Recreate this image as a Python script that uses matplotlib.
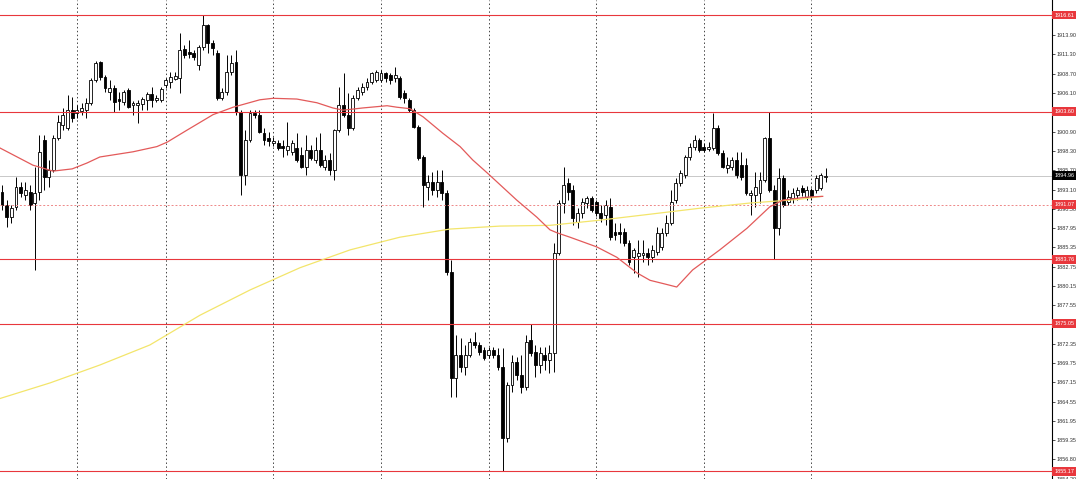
import matplotlib
matplotlib.use("Agg")
import matplotlib.pyplot as plt
import numpy as np

# velas de 1h (XAUUSD)
opens = [1892.8, 1891.0, 1889.4, 1890.8, 1893.5, 1892.4, 1892.8, 1891.3, 1892.8, 1899.8,
         1894.8, 1895.8, 1900.1, 1901.8, 1901.4, 1903.8, 1903.4, 1903.7, 1903.8, 1904.8,
         1907.9, 1910.3, 1908.3, 1906.2, 1906.8, 1905.3, 1904.9, 1906.5, 1904.5, 1904.5,
         1904.6, 1905.2, 1906.0, 1905.2, 1905.2, 1907.2, 1907.6, 1908.0, 1908.1, 1912.0,
         1911.6, 1911.5, 1909.9, 1912.3, 1915.3, 1912.8, 1911.5, 1905.4, 1906.2, 1908.9,
         1910.3, 1903.6, 1895.1, 1899.8, 1903.4, 1903.2, 1900.7, 1900.1, 1899.4, 1899.4,
         1899.0, 1898.4, 1898.2, 1898.7, 1897.8, 1896.2, 1898.4, 1897.1, 1898.4, 1896.2,
         1897.1, 1895.8, 1901.1, 1904.5, 1903.2, 1901.4, 1905.4, 1906.2, 1906.9, 1907.6,
         1907.9, 1907.9, 1908.8, 1908.5, 1908.1, 1908.1, 1906.1, 1905.2, 1903.8, 1901.5,
         1897.5, 1893.5, 1894.1, 1893.1, 1894.1, 1892.7, 1882.0, 1867.8, 1870.8, 1869.2,
         1870.8, 1872.6, 1872.2, 1871.5, 1870.8, 1871.5, 1870.8, 1869.2, 1859.7, 1866.8,
         1869.9, 1868.2, 1866.5, 1872.9, 1871.2, 1869.5, 1870.8, 1870.2, 1871.1, 1884.6,
         1891.3, 1894.0, 1893.1, 1888.8, 1890.0, 1891.3, 1892.0, 1891.4, 1890.0, 1889.7,
         1890.8, 1887.4, 1887.4, 1887.4, 1885.9, 1884.0, 1884.2, 1884.3, 1884.6, 1884.0,
         1884.7, 1885.4, 1887.3, 1888.6, 1891.7, 1894.0, 1895.1, 1897.5, 1898.8, 1899.8,
         1898.8, 1898.6, 1898.7, 1901.4, 1898.0, 1896.0, 1896.2, 1897.1, 1896.4, 1896.4,
         1892.4, 1892.4, 1892.7, 1894.4, 1900.1, 1893.1, 1887.9, 1894.7, 1891.4, 1892.0,
         1892.4, 1893.3, 1892.1, 1893.1, 1893.1, 1893.3, 1894.8]
highs = [1893.7, 1891.7, 1891.0, 1894.8, 1894.1, 1894.1, 1893.7, 1896.2, 1900.5, 1900.5,
         1897.1, 1900.5, 1903.2, 1904.1, 1905.8, 1905.6, 1904.5, 1904.8, 1905.4, 1908.1,
         1910.4, 1910.4, 1908.5, 1907.9, 1907.2, 1906.2, 1906.5, 1906.8, 1905.0, 1905.2,
         1905.6, 1906.2, 1906.9, 1905.8, 1906.9, 1908.1, 1908.9, 1908.9, 1914.2, 1912.6,
         1913.2, 1911.9, 1912.6, 1916.61, 1915.4, 1913.2, 1911.9, 1906.8, 1911.2, 1911.2,
         1911.9, 1903.8, 1901.1, 1903.8, 1903.8, 1903.8, 1901.4, 1900.9, 1900.2, 1899.8,
         1899.8, 1902.2, 1899.8, 1900.7, 1898.8, 1900.5, 1899.1, 1900.2, 1900.7, 1897.8,
         1898.0, 1901.3, 1906.9, 1908.8, 1906.1, 1905.8, 1906.9, 1907.5, 1908.1, 1908.9,
         1909.2, 1909.2, 1908.9, 1908.8, 1909.6, 1908.4, 1906.5, 1905.4, 1904.1, 1901.8,
         1897.8, 1895.1, 1895.5, 1895.8, 1895.8, 1893.1, 1883.6, 1873.5, 1873.1, 1872.2,
         1873.1, 1873.9, 1872.6, 1871.9, 1871.9, 1871.9, 1871.8, 1871.8, 1867.2, 1870.8,
         1870.6, 1870.8, 1873.5, 1875.0, 1872.2, 1871.9, 1871.9, 1872.2, 1885.9, 1891.7,
         1896.2, 1894.7, 1893.7, 1890.6, 1892.0, 1892.3, 1892.3, 1891.7, 1891.0, 1891.7,
         1892.0, 1888.6, 1888.6, 1887.9, 1886.3, 1885.2, 1886.3, 1886.3, 1885.2, 1885.7,
         1888.1, 1887.9, 1889.7, 1893.1, 1894.7, 1895.8, 1897.8, 1899.4, 1900.5, 1900.1,
         1899.4, 1899.5, 1903.4, 1901.8, 1898.4, 1897.5, 1897.5, 1898.2, 1898.2, 1897.4,
         1893.1, 1895.5, 1895.5, 1900.2, 1903.6, 1893.7, 1896.0, 1895.1, 1893.1, 1893.3,
         1893.5, 1893.7, 1893.6, 1893.3, 1895.1, 1895.3, 1896.0]
lows = [1890.4, 1888.1, 1888.6, 1890.4, 1892.1, 1891.7, 1890.4, 1882.3, 1891.7, 1893.1,
        1893.5, 1895.5, 1899.8, 1901.1, 1901.1, 1902.2, 1902.8, 1903.2, 1902.8, 1904.5,
        1907.6, 1907.9, 1906.2, 1905.2, 1903.6, 1903.8, 1904.5, 1904.1, 1903.2, 1902.1,
        1903.8, 1903.8, 1904.2, 1904.9, 1904.9, 1906.8, 1906.8, 1907.9, 1906.1, 1910.8,
        1910.8, 1910.6, 1909.2, 1911.9, 1911.5, 1911.2, 1905.2, 1905.2, 1905.8, 1908.5,
        1903.2, 1892.4, 1893.7, 1899.5, 1902.8, 1900.7, 1899.1, 1899.0, 1899.0, 1898.4,
        1897.5, 1897.8, 1897.8, 1896.8, 1896.0, 1895.1, 1897.1, 1896.7, 1896.2, 1895.8,
        1895.1, 1894.4, 1900.9, 1902.9, 1900.5, 1901.1, 1905.2, 1905.8, 1906.5, 1907.3,
        1907.6, 1907.6, 1907.6, 1907.3, 1907.6, 1905.3, 1904.8, 1903.6, 1901.4, 1897.1,
        1890.8, 1891.7, 1892.4, 1892.1, 1891.7, 1881.6, 1865.2, 1865.2, 1868.6, 1868.2,
        1870.6, 1871.8, 1870.8, 1870.2, 1870.4, 1870.4, 1868.8, 1855.17, 1859.1, 1865.9,
        1867.5, 1865.7, 1866.1, 1870.7, 1867.9, 1868.4, 1868.8, 1868.4, 1868.6, 1884.3,
        1890.0, 1891.7, 1888.4, 1887.9, 1889.3, 1890.6, 1890.1, 1889.6, 1888.8, 1888.4,
        1886.3, 1886.3, 1885.9, 1885.5, 1883.0, 1881.9, 1881.4, 1883.4, 1883.0, 1883.4,
        1884.3, 1885.0, 1886.9, 1888.4, 1891.3, 1893.6, 1894.7, 1897.1, 1898.4, 1898.2,
        1898.2, 1898.3, 1898.4, 1897.8, 1896.0, 1895.3, 1895.8, 1894.7, 1894.4, 1892.4,
        1889.7, 1890.8, 1891.3, 1894.1, 1892.8, 1883.76, 1887.0, 1890.8, 1891.0, 1891.3,
        1891.7, 1892.3, 1891.7, 1891.7, 1892.7, 1893.1, 1894.1]
closes = [1891.0, 1889.4, 1890.6, 1893.5, 1892.7, 1893.1, 1891.0, 1892.7, 1898.2, 1894.8,
          1895.8, 1900.1, 1902.2, 1903.2, 1903.8, 1902.8, 1903.8, 1904.1, 1904.8, 1907.9,
          1910.2, 1908.3, 1906.8, 1906.8, 1904.9, 1905.0, 1906.2, 1904.2, 1904.8, 1904.8,
          1905.3, 1906.0, 1905.2, 1905.4, 1906.7, 1907.9, 1908.3, 1908.4, 1911.9, 1911.2,
          1911.4, 1911.0, 1912.3, 1915.3, 1912.8, 1912.2, 1905.4, 1906.2, 1908.9, 1910.2,
          1903.6, 1895.1, 1899.8, 1903.4, 1903.2, 1900.9, 1899.8, 1899.6, 1899.6, 1898.7,
          1898.7, 1899.0, 1899.4, 1897.1, 1896.2, 1898.4, 1897.4, 1898.4, 1896.4, 1897.1,
          1895.8, 1901.1, 1904.5, 1903.2, 1901.4, 1905.4, 1906.5, 1906.9, 1907.6, 1908.8,
          1908.9, 1908.8, 1908.1, 1907.9, 1908.5, 1905.6, 1905.4, 1903.8, 1901.5, 1897.4,
          1893.7, 1894.1, 1893.1, 1894.1, 1892.7, 1882.0, 1867.8, 1870.8, 1869.2, 1870.8,
          1872.6, 1872.2, 1871.3, 1870.4, 1871.5, 1870.8, 1869.2, 1859.7, 1866.8, 1869.9,
          1868.2, 1866.5, 1872.6, 1871.1, 1869.5, 1871.1, 1870.2, 1871.1, 1884.6, 1891.3,
          1893.7, 1892.8, 1889.3, 1890.0, 1891.4, 1892.0, 1890.4, 1890.0, 1889.3, 1891.0,
          1886.7, 1887.0, 1887.1, 1885.9, 1883.4, 1885.0, 1884.6, 1884.6, 1884.0, 1885.0,
          1887.3, 1887.3, 1888.6, 1891.4, 1894.0, 1895.3, 1897.5, 1898.8, 1899.8, 1898.4,
          1898.4, 1898.8, 1901.4, 1898.0, 1896.2, 1896.4, 1897.1, 1895.1, 1894.8, 1892.7,
          1892.7, 1893.5, 1894.4, 1900.1, 1893.1, 1887.9, 1894.7, 1891.0, 1892.1, 1892.7,
          1893.1, 1892.8, 1893.1, 1892.1, 1894.7, 1895.1, 1894.96]

# médias móveis (índice da vela, preço)
ma_red_idx = [-0.4, 6.6, 10.9, 15.0, 18.2, 20.9, 28.0, 33.1, 35.3, 39.5, 45.1, 49.4, 55.1,
              57.9, 63.0, 67.3, 70.7, 72.9, 77.1, 82.3, 84.4, 87.2, 90.0, 94.2, 97.9, 100.6,
              103.8, 110.0, 114.3, 117.1, 118.6, 121.4, 127.1, 131.4, 135.7, 138.5, 141.7,
              144.2, 147.6, 153.4, 159.2, 164.1, 166.9, 172.0, 175.4]
ma_red_val = [1898.7, 1896.4, 1895.6, 1895.9, 1896.7, 1897.5, 1898.2, 1898.9, 1899.5, 1901.1,
              1903.2, 1904.2, 1905.2, 1905.4, 1905.3, 1904.8, 1904.1, 1903.8, 1904.1, 1904.4,
              1904.2, 1904.0, 1902.9, 1900.7, 1898.9, 1897.1, 1895.3, 1891.7, 1889.4, 1887.7,
              1887.3, 1886.7, 1885.4, 1884.0, 1881.9, 1880.9, 1880.4, 1880.0, 1882.3, 1885.0,
              1887.9, 1890.8, 1891.7, 1892.1, 1892.2]
ma_yel_idx = [-0.4, 10.3, 20.9, 31.6, 42.3, 53.0, 63.7, 74.4, 85.0, 95.7, 106.4, 117.1,
              127.8, 138.5, 149.1, 159.8, 170.5, 175.2]
ma_yel_val = [1865.0, 1867.1, 1869.5, 1872.2, 1876.2, 1879.6, 1882.6, 1885.0, 1886.7, 1887.8,
              1888.2, 1888.3, 1889.0, 1889.8, 1890.6, 1891.3, 1891.8, 1892.2]

# níveis horizontais
niveis_sr = [1916.61, 1903.60, 1883.76, 1875.05, 1855.17]
nivel_tracejado = 1891.07
preco_atual = 1894.96
grade_x = [16, 35, 58, 81, 104, 127, 150, 173]

escala_ticks = [1913.90, 1911.30, 1908.70, 1906.10, 1900.90, 1898.30, 1895.70, 1893.10,
                1890.50, 1887.95, 1885.35, 1882.75, 1880.15, 1877.55, 1872.35, 1869.75,
                1867.15, 1864.55, 1861.95, 1859.35, 1856.80, 1854.20]

VERMELHO = '#e8373c'
FONTE = 'Liberation Sans'
TAM = 4.0

fig = plt.figure(figsize=(10.8, 4.79), dpi=100)
ax = fig.add_axes([0, 0, 1052 / 1080, 1])
ax.set_xlim(-0.43, 224.4)
ax.set_ylim(1854.16, 1918.63)

for g in grade_x:
    ax.axvline(g, color='#444444', lw=0.7, ls=(0, (1.5, 2.5)), zorder=1)

ax.axhline(preco_atual, color='#c8c8c8', lw=0.7, zorder=1)

# velas
x = np.arange(len(opens))
o = np.array(opens); c = np.array(closes)
h = np.array(highs); l = np.array(lows)
alta = c >= o
ax.vlines(x, l, h, color='black', lw=0.7, zorder=2)
base = np.minimum(o, c)
altura = np.maximum(np.abs(c - o), 0.12)
ax.bar(x[alta], altura[alta], bottom=base[alta], width=0.62, color='white',
       edgecolor='black', linewidth=0.6, zorder=3)
ax.bar(x[~alta], altura[~alta], bottom=base[~alta], width=0.62, color='black',
       edgecolor='black', linewidth=0.6, zorder=3)

# linhas de suporte/resistência
for n in niveis_sr:
    ax.axhline(n, color=VERMELHO, lw=0.8, zorder=4)
ax.axhline(nivel_tracejado, color='#ee8888', lw=0.7, ls=(0, (2, 2)), zorder=4)

ax.plot(ma_yel_idx, ma_yel_val, color='#f3e56b', lw=0.9, zorder=5)
ax.plot(ma_red_idx, ma_red_val, color='#e35a5a', lw=0.9, zorder=5)

# escala de preços à direita
for s in ['top', 'left', 'bottom']:
    ax.spines[s].set_visible(False)
ax.spines['right'].set_linewidth(0.8)
ax.set_xticks([])
ax.yaxis.tick_right()
ax.set_yticks(escala_ticks)
ax.set_yticklabels([f'{v:.2f}' for v in escala_ticks], fontfamily=FONTE)
ax.tick_params(axis='y', labelsize=TAM, length=2, width=0.6, pad=1.5, colors='#333333')

tr = ax.get_yaxis_transform()
for n in niveis_sr + [nivel_tracejado]:
    ax.text(1.002, n, f'{n:.2f}', transform=tr, fontsize=TAM, family=FONTE, color='white',
            va='center', ha='left', clip_on=False, zorder=10,
            bbox=dict(boxstyle='square,pad=0.35', fc=VERMELHO, ec='none'))
ax.text(1.002, preco_atual, f'{preco_atual:.2f}', transform=tr, fontsize=TAM, family=FONTE,
        color='white', va='center', ha='left', clip_on=False, zorder=10,
        bbox=dict(boxstyle='square,pad=0.35', fc='black', ec='none'))

fig.savefig('out.png', dpi=100)
